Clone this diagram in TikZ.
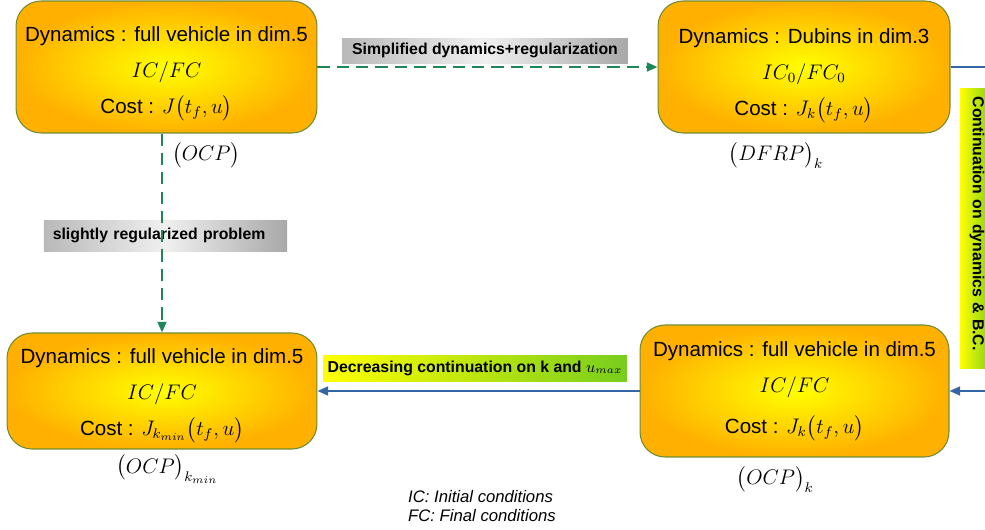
\documentclass[tikz,border=0pt]{standalone}
\usepackage{amsmath}
\usepackage{fontspec}
\setmainfont{Liberation Sans}
\usetikzlibrary{positioning,arrows.meta}

\definecolor{boxedge}{RGB}{110,140,50}
\definecolor{amber}{RGB}{255,176,0}
\definecolor{dashgreen}{RGB}{30,135,90}
\definecolor{lineblue}{RGB}{52,101,164}
\definecolor{lime}{RGB}{120,205,30}

\begin{document}
\begin{tikzpicture}[x=0.02cm, y=-0.02cm,
    prob/.style={draw=boxedge, line width=0.6pt, rounded corners=0.5cm,
        inner color=yellow, outer color=amber, align=center,
        font=\fontsize{11.7}{20.4}\selectfont},
    tag/.style={font=\fontsize{12}{14}\selectfont, inner sep=1pt},
    banner/.style={font=\fontsize{9}{11}\selectfont\bfseries, inner sep=0pt},
    greybanner/.style={banner, left color=gray!55, right color=gray!68, middle color=gray!12},
    limebanner/.style={banner, left color=yellow, right color=lime},
    dashlink/.style={dashgreen, line width=1.2pt, dash pattern=on 7pt off 4pt,
        -{Triangle[length=6pt,width=5pt]}},
    bluelink/.style={lineblue, line width=1pt, -{Triangle[length=6pt,width=5pt]}}]
    \useasboundingbox (0,0) rectangle (985,529);

    % the four problems
    \node[prob, minimum width=6.02cm, minimum height=2.64cm] (OCP) at (166.5,67)
        {\rule{0pt}{16.5pt}Dynamics : full vehicle in dim.5\\ $IC/FC$\\ Cost : $J\bigl(t_f,u\bigr)$};
    \node[prob, minimum width=5.84cm, minimum height=2.64cm] (DFRP) at (804,67)
        {\rule{0pt}{18.5pt}Dynamics : Dubins in dim.3\\ $IC_0/FC_0$\\ Cost : $J_k\bigl(t_f,u\bigr)$};
    \node[prob, minimum width=6.18cm, minimum height=2.64cm] (OCPk) at (794.5,391)
        {Dynamics : full vehicle in dim.5\\ $IC/FC$\\[3pt] Cost : $J_k\bigl(t_f,u\bigr)$};
    \node[prob, minimum width=6.2cm, minimum height=2.32cm] (OCPmin) at (162,391)
        {\rule{0pt}{14pt}Dynamics : full vehicle in dim.5\\ $IC/FC$\\ Cost : $J_{k_{min}}\bigl(t_f,u\bigr)$};

    \node[tag, below right=4pt and 2pt of OCP.south] (lOCP) {$\bigl(OCP\bigr)$};
    \node[tag, below=4pt of DFRP, xshift=-16pt] (lDFRP) {$\bigl(DFRP\bigr)_k$};
    \node[tag, below=4pt of OCPk, xshift=-11pt] (lOCPk) {$\bigl(OCP\bigr)_k$};
    \node[tag, below=2pt of OCPmin, xshift=3pt] (lOCPmin) {$\bigl(OCP\bigr)_{k_{min}}$};

    % labels of the steps
    \node[greybanner, minimum width=5.72cm, minimum height=0.5cm] (simplif) at (485,50.5)
        {Simplified dynamics+regularization};
    \node[greybanner, text width=4.51cm, inner xsep=5pt, align=left, minimum height=0.62cm]
        (regul) at (165.5,235.5) {slightly regularized problem};
    \node[limebanner, minimum width=6.08cm, minimum height=0.52cm] (decr) at (475,368)
        {Decreasing continuation on k and $u_{max}$};
    \node[limebanner, rotate=-90, text width=5.25cm, inner xsep=5pt, align=left,
        minimum height=0.68cm] (contin) at (977,228) {Continuation on dynamics \& B.C.};

    \node[font=\fontsize{9.5}{10.3}\selectfont\itshape, align=left, anchor=west] (note)
        at (402,506) {IC: Initial conditions\\FC: Final conditions};

    \draw[dashlink] (OCP.east) -- (DFRP.west);
    \draw[dashlink] (OCPmin.north |- OCP.south) -- (OCPmin.north);
    \draw[bluelink] (DFRP.east) -- ++(60,0) |- (OCPk.east);
    \draw[bluelink] (OCPk.west) -- (OCPmin.east);
\end{tikzpicture}
\end{document}
